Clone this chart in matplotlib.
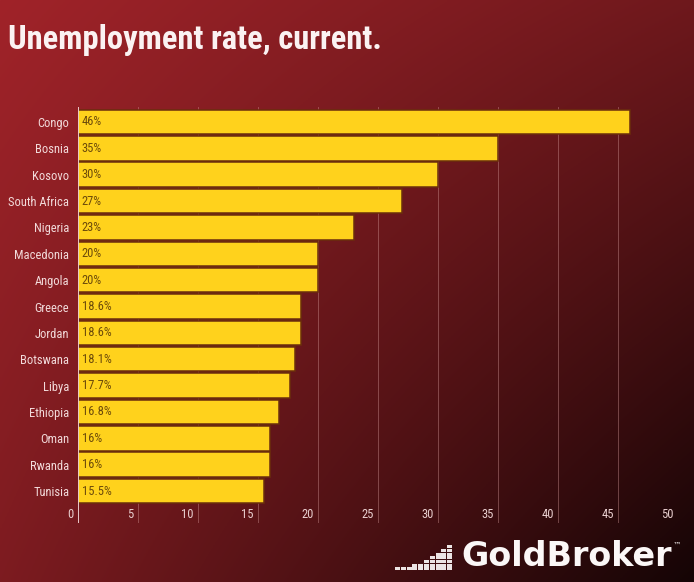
import numpy as np
import matplotlib
matplotlib.use("Agg")
import matplotlib.pyplot as plt
from matplotlib import font_manager
from matplotlib.patches import Rectangle

countries = ["Congo", "Bosnia", "Kosovo", "South Africa", "Nigeria", "Macedonia",
             "Angola", "Greece", "Jordan", "Botswana", "Libya", "Ethiopia",
             "Oman", "Rwanda", "Tunisia"]
rates = [46, 35, 30, 27, 23, 20, 20, 18.6, 18.6, 18.1, 17.7, 16.8, 16, 16, 15.5]
xticks = [0, 5, 10, 15, 20, 25, 30, 35, 40, 45, 50]


def pick(*names):
    for n in names:
        try:
            font_manager.findfont(n, fallback_to_default=False)
            return n
        except Exception:
            pass
    return "DejaVu Sans"


narrow = pick("Liberation Sans Narrow", "Roboto Condensed", "DejaVu Sans")

W, H = 694, 582
fig = plt.figure(figsize=(W / 100, H / 100), dpi=100)

# background gradient: red top-left fading to near black bottom-right
bg = fig.add_axes([0, 0, 1, 1])
u = np.linspace(0, 1, 300)[None, :]
v = np.linspace(0, 1, 250)[:, None]
f = 1 - 0.31 * u - 0.22 * v - 0.34 * u * v
base = np.array([160, 35, 41]) / 255
img = np.clip(f[..., None] * base, 0, 1)
bg.imshow(img, aspect="auto", extent=[0, 1, 0, 1], origin="upper")
bg.set_axis_off()

ax = fig.add_axes([77.7 / W, 1 - 523 / H, (678 - 77.7) / W, (523 - 107) / H])
ax.patch.set_alpha(0)
y = np.arange(len(countries))
ax.barh(y, rates, height=0.93, color="#ffd21c", edgecolor="#6b2e0c", lw=1.1, zorder=3)
ax.set_xlim(0, 50)
ax.set_ylim(14 + (523 - 491) / 26.36, -(122 - 107) / 26.36)

for t in xticks[1:]:
    ax.axvline(t, color="#d9a0a0", lw=0.6, alpha=0.45, zorder=1)
ax.axvline(0, color="#f2d6d6", lw=1.3, zorder=4)
for t in xticks:
    ax.text(t - 0.33, 14.91, str(t), ha="right", va="center", fontsize=9,
            color="#ead0d0", family=narrow)

for yi, r in zip(y, rates):
    ax.text(0.35, yi, f"{r:g}%", ha="left", va="center", fontsize=9,
            color="#6b4a0a", family=narrow, zorder=5)

ax.set_yticks(y)
ax.set_yticklabels(countries, fontsize=9, color="#f2dada", family=narrow)
ax.tick_params(axis="y", length=0, pad=6)
ax.set_xticks([])
for s in ax.spines.values():
    s.set_visible(False)

fig.text(8 / W, 1 - 40 / H, "Unemployment rate, current.", ha="left", va="center",
         fontsize=23.5, fontweight="bold", color="#fbf2f2", family=narrow)

# logo
fig.text(461 / W, 1 - 557 / H, "GoldBroker", ha="left", va="center", fontsize=24,
         fontweight="bold", color="#fbf7f7", family="DejaVu Sans")
fig.text(673 / W, 1 - 545 / H, "™", ha="left", va="center", fontsize=6,
         color="#fbf7f7")
heights = [1, 1, 1, 2, 2, 3, 4, 5, 6, 7]
cw, ch = 5.8, 3.7
for i, hgt in enumerate(heights):
    for j in range(hgt):
        x0 = 395 + i * cw
        y0 = 571 - (j + 1) * ch
        fig.add_artist(Rectangle((x0 / W, 1 - (y0 + ch - 0.7) / H), (cw - 0.9) / W,
                                 (ch - 0.7) / H, transform=fig.transFigure,
                                 color="#ece4e4", lw=0))

fig.savefig("out.png", dpi=100)
